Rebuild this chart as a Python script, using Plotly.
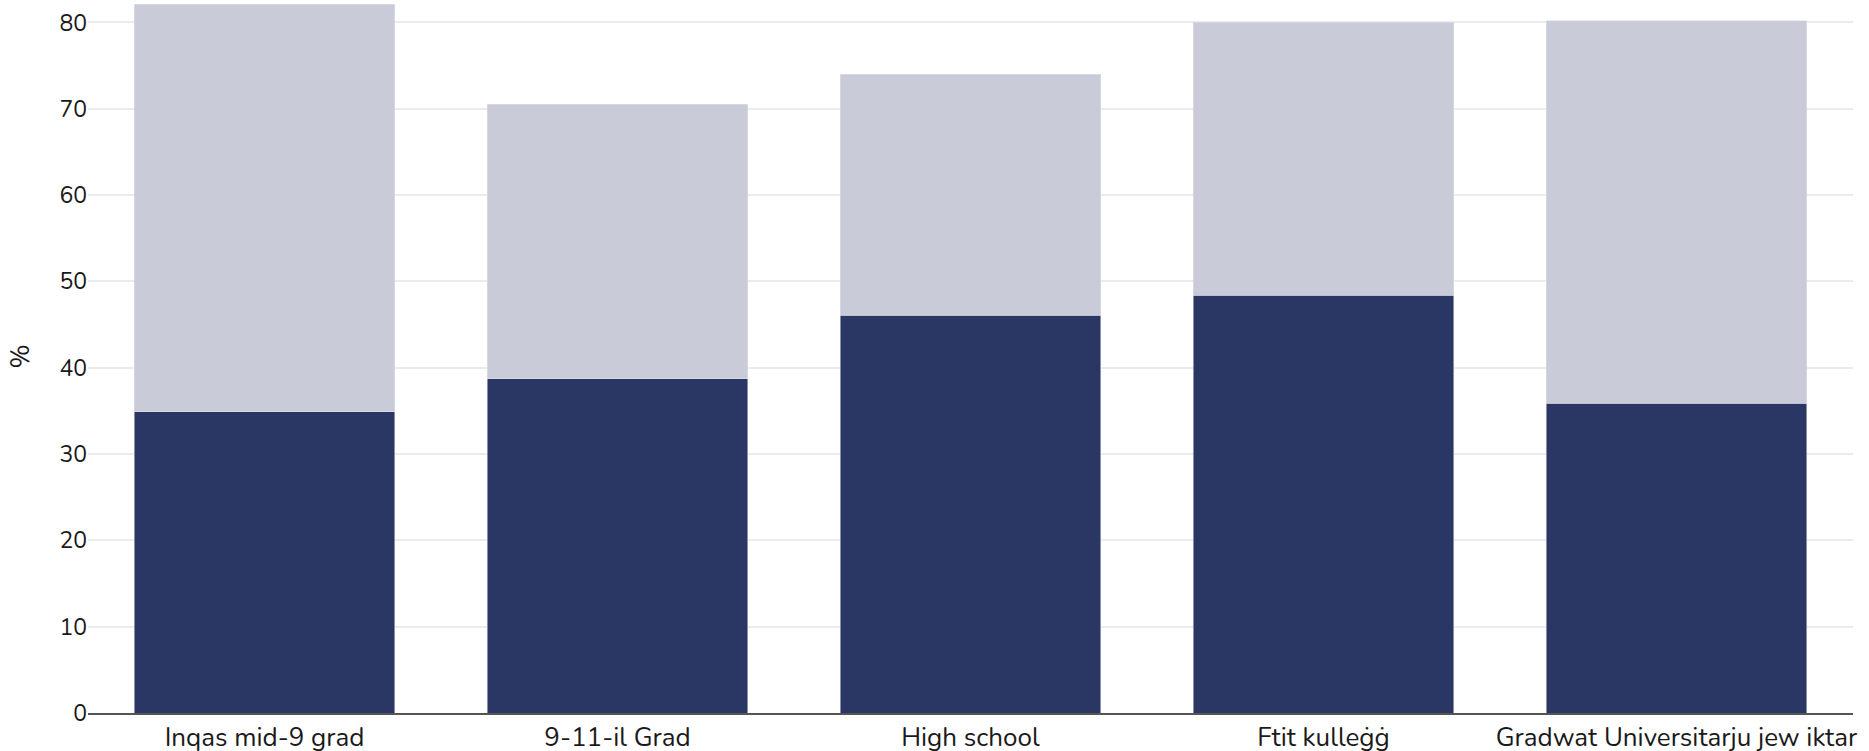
import plotly.graph_objects as go

categories = ["Inqas mid-9 grad", "9-11-il Grad", "High school", "Ftit kulleġġ", "Gradwat Universitarju jew iktar"]
dark_values = [34.9, 38.7, 46.1, 48.4, 35.9]
light_values = [47.2, 31.8, 27.9, 31.65, 44.3]
y_ticks = [0, 10, 20, 30, 40, 50, 60, 70, 80]

DARK = "#2A3663"
LIGHT = "#C9CBD8"
FONT = "Nunito, Lato, sans-serif"

fig = go.Figure()
fig.add_trace(go.Bar(x=categories, y=dark_values, marker=dict(color=DARK, line=dict(color="#C9CBD8", width=0.6)), showlegend=False))
fig.add_trace(go.Bar(x=categories, y=light_values, marker=dict(color=LIGHT, line=dict(color="#E0E1E8", width=0.6)), showlegend=False))

fig.update_layout(
    barmode="stack",
    bargap=0.262,
    width=1869, height=751,
    margin=dict(l=88, r=16, t=0, b=38),
    paper_bgcolor="white", plot_bgcolor="white",
    font=dict(family=FONT, size=23, color="#1a1a1a"),
    xaxis=dict(showline=True, linecolor="#555555", linewidth=1.5, ticks="", showgrid=False,
               range=[-0.5, 4.5], tickfont=dict(size=26), automargin=False),
    yaxis=dict(range=[0, 82.6], tickvals=y_ticks, showgrid=True, gridcolor="#EBEBEB", gridwidth=1.5,
               zeroline=False, ticks="", tickfont=dict(size=23), automargin=False,
               title=dict(text="%", font=dict(size=26), standoff=22)),
)

fig.write_html("out.html", config={"displayModeBar": False},
               post_script="document.body.style.margin='0';")
